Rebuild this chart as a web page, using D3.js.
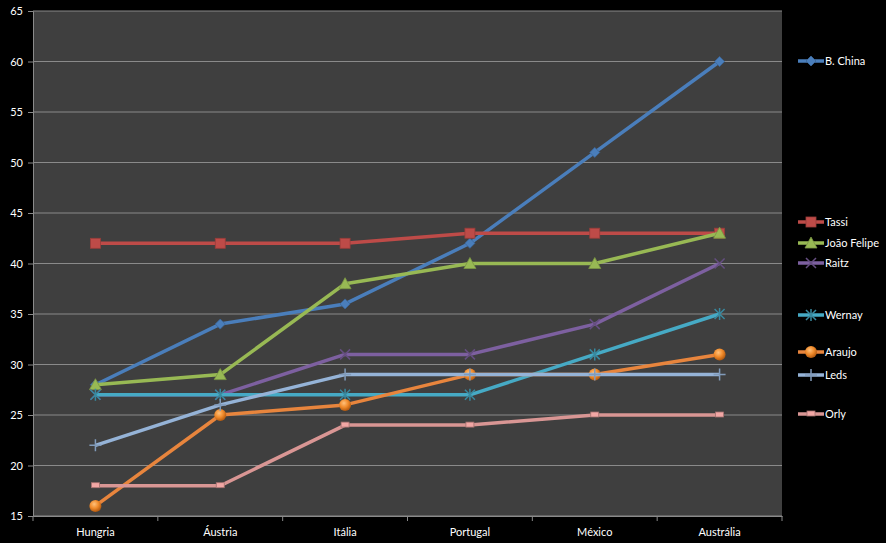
<!DOCTYPE html>
<html>
<head>
<meta charset="utf-8">
<script src="https://cdn.jsdelivr.net/npm/d3@7"></script>
<style>
  body { margin: 0; background: #000; }
  svg { display: block; font-family: Lato, "Open Sans", sans-serif; }
</style>
</head>
<body>
<svg width="886" height="543"></svg>
<script>
"use strict";

// data
const categories = ["Hungria", "Áustria", "Itália", "Portugal", "México", "Austrália"];
const seriesNames = ["B. China", "Tassi", "João Felipe", "Raitz", "Wernay", "Araujo", "Leds", "Orly"];
const bChina     = [28, 34, 36, 42, 51, 60];
const tassi      = [42, 42, 42, 43, 43, 43];
const joaoFelipe = [28, 29, 38, 40, 40, 43];
const raitz      = [27, 27, 31, 31, 34, 40];
const wernay     = [27, 27, 27, 27, 31, 35];
const araujo     = [16, 25, 26, 29, 29, 31];
const leds       = [22, 26, 29, 29, 29, 29];
const orly       = [18, 18, 24, 24, 25, 25];
const yTicks = [15, 20, 25, 30, 35, 40, 45, 50, 55, 60, 65];

const seriesValues = [bChina, tassi, joaoFelipe, raitz, wernay, araujo, leds, orly];
const colors = ["#4a7ebb", "#be4b48", "#98b954", "#7d60a0", "#46aac5", "#e8853d", "#95b3d7", "#d99694"];
const markers = ["diamond", "square", "triangle", "x", "asterisk", "circle", "plus", "dash"];

// legend rows (layout only)
const legendY = [61, 222, 243, 263, 315, 352, 375, 414];

const plot = { left: 33, right: 782, top: 11, bottom: 516 };

let svg = d3.select("svg");

// gradient for the round marker
let grad = svg.append("defs").append("radialGradient")
  .attr("id", "orangeBall").attr("cx", "40%").attr("cy", "35%").attr("r", "65%");
grad.append("stop").attr("offset", "0%").attr("stop-color", "#ffc07a");
grad.append("stop").attr("offset", "55%").attr("stop-color", "#f08a2a");
grad.append("stop").attr("offset", "100%").attr("stop-color", "#b35a10");

let x = d3.scaleBand()
  .domain(categories)
  .range([plot.left, plot.right]);

let y = d3.scaleLinear()
  .domain([15, 65])
  .range([plot.bottom, plot.top]);

// plot background
svg.append("rect")
  .attr("x", plot.left)
  .attr("y", plot.top)
  .attr("width", plot.right - plot.left)
  .attr("height", plot.bottom - plot.top)
  .attr("fill", "#3f3f3f");

// grid
svg.append("g")
  .selectAll("line")
  .data(yTicks)
  .enter()
  .append("line")
  .attr("x1", plot.left)
  .attr("x2", plot.right)
  .attr("y1", d => y(d))
  .attr("y2", d => y(d))
  .attr("stroke", "#8a8a8a")
  .attr("stroke-width", 1);

// y axis
let yAxis = svg.append("g")
  .attr("transform", `translate(${plot.left}, 0)`)
  .call(d3.axisLeft(y).tickValues(yTicks).tickSize(5).tickPadding(5));
yAxis.select(".domain").attr("stroke", "#8a8a8a");
yAxis.selectAll(".tick line").attr("stroke", "#8a8a8a");
yAxis.selectAll(".tick text").attr("fill", "#fff").attr("font-size", 11)
  .attr("font-family", "Lato, 'Open Sans', sans-serif");

// x axis
let xAxis = svg.append("g")
  .attr("transform", `translate(0, ${plot.bottom})`)
  .call(d3.axisBottom(x).tickSize(0).tickPadding(12));
xAxis.select(".domain").attr("stroke", "#8a8a8a");
xAxis.selectAll(".tick text").attr("fill", "#fff").attr("font-size", 11)
  .attr("font-family", "Lato, 'Open Sans', sans-serif");
// category boundary ticks
svg.append("g")
  .selectAll("line")
  .data(categories.concat([null]))
  .enter()
  .append("line")
  .attr("x1", (d, i) => i < categories.length ? x(d) : plot.right)
  .attr("x2", (d, i) => i < categories.length ? x(d) : plot.right)
  .attr("y1", plot.bottom)
  .attr("y2", plot.bottom + 5)
  .attr("stroke", "#8a8a8a");

function drawMarker(g, type, color) {
  let dark = d3.color(color).darker(0.6);
  if (type == "diamond") {
    g.append("path").attr("d", "M0,-5L5,0L0,5L-5,0Z").attr("fill", color)
      .attr("stroke", dark).attr("stroke-width", 0.8);
  } else if (type == "square") {
    g.append("rect").attr("x", -5).attr("y", -5).attr("width", 10).attr("height", 10)
      .attr("fill", color).attr("stroke", dark).attr("stroke-width", 0.8);
  } else if (type == "triangle") {
    g.append("path").attr("d", "M0,-6L6,5L-6,5Z").attr("fill", color)
      .attr("stroke", dark).attr("stroke-width", 0.8);
  } else if (type == "x") {
    g.append("path").attr("d", "M-5,-5L5,5M-5,5L5,-5").attr("stroke", dark).attr("stroke-width", 1.5);
  } else if (type == "asterisk") {
    g.append("path").attr("d", "M-5,-5L5,5M-5,5L5,-5M0,-6L0,6").attr("stroke", dark).attr("stroke-width", 1.5);
  } else if (type == "circle") {
    g.append("circle").attr("r", 6).attr("fill", "url(#orangeBall)");
  } else if (type == "plus") {
    g.append("path").attr("d", "M-6,0L6,0M0,-6L0,6").attr("stroke", d3.color(color).darker(0.4)).attr("stroke-width", 1.5);
  } else if (type == "dash") {
    g.append("rect").attr("x", -4).attr("y", -3).attr("width", 8).attr("height", 5)
      .attr("fill", d3.color(color).brighter(0.3)).attr("stroke", d3.color(color).darker(0.8)).attr("stroke-width", 0.8);
  }
}

let line = d3.line()
  .x((d, i) => x(categories[i]) + x.bandwidth() / 2)
  .y(d => y(d));

// series
seriesValues.forEach((vals, s) => {
  let g = svg.append("g").attr("class", "series");
  g.append("path")
    .attr("d", line(vals))
    .attr("fill", "none")
    .attr("stroke", colors[s])
    .attr("stroke-width", 3.5)
    .attr("stroke-linejoin", "round");
  vals.forEach((v, i) => {
    let m = g.append("g")
      .attr("transform", `translate(${x(categories[i]) + x.bandwidth() / 2}, ${y(v)})`);
    drawMarker(m, markers[s], colors[s]);
  });
});

// legend
let legend = svg.append("g").attr("class", "legend");
seriesNames.forEach((name, s) => {
  let item = legend.append("g").attr("transform", `translate(798, ${legendY[s]})`);
  item.append("line")
    .attr("x1", 0).attr("x2", 26)
    .attr("stroke", colors[s]).attr("stroke-width", 3.5);
  let m = item.append("g").attr("transform", "translate(13, 0)");
  drawMarker(m, markers[s], colors[s]);
  item.append("text")
    .text(name)
    .attr("x", 27)
    .attr("y", 4)
    .attr("fill", "#fff")
    .attr("font-size", 11);
});
</script>
</body>
</html>
